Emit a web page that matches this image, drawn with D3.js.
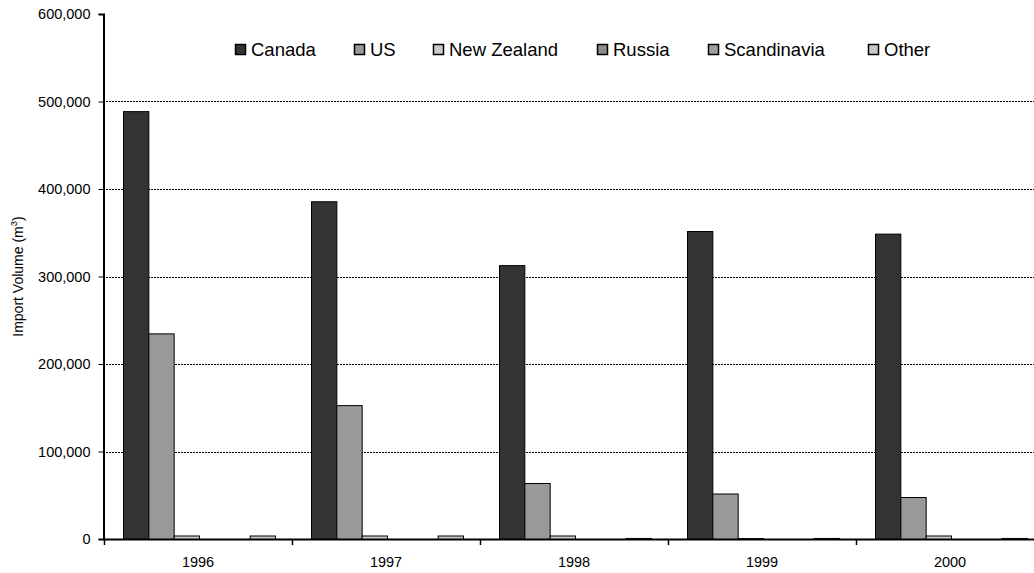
<!doctype html>
<html lang="en">
<head>
<meta charset="utf-8">
<script src="https://d3js.org/d3.v7.min.js"></script>
<style>
  body { margin: 0; background: #fff; }
  text { font-family: "Liberation Sans", Arial, sans-serif; fill: #000; }
</style>
</head>
<body>
<svg width="1034" height="573"></svg>
<script>
// data
var years = ["1996", "1997", "1998", "1999", "2000"];
var series = ["Canada", "US", "New Zealand", "Russia", "Scandinavia", "Other"];
var canada = [489000, 386000, 313000, 352000, 349000];
var us = [235000, 153000, 64000, 52000, 48000];
var newZealand = [4000, 4000, 4000, 1000, 4000];
var russia = [0, 0, 0, 0, 0];
var scandinavia = [0, 0, 0, 0, 0];
var other = [4000, 4000, 1200, 1200, 1200];
var yTicks = [0, 100000, 200000, 300000, 400000, 500000, 600000];

var values = [canada, us, newZealand, russia, scandinavia, other];
var colors = ["#333333", "#999999", "#cccccc", "#8c8c8c", "#a0a0a0", "#c8c8c8"];
var legendX = [235, 354, 433, 597, 708, 868];

var svg = d3.select("svg");
var plotLeft = 103, plotTop = 14, plotBottom = 539, bandW = 188;

var x = d3.scaleBand().domain(years).range([plotLeft + 1, plotLeft + 1 + bandW * years.length]).padding(0);
var xs = d3.scaleBand().domain(series).range([19, 171]).padding(0);
var y = d3.scaleLinear().domain([0, 600000]).range([plotBottom, plotTop]);

// gridlines
svg.append("g").selectAll("line").data(yTicks.filter(function(d) { return d > 0 && d < 600000; }))
  .enter().append("line")
  .attr("x1", plotLeft).attr("x2", 1034)
  .attr("y1", function(d) { return Math.round(y(d)) + 0.5; })
  .attr("y2", function(d) { return Math.round(y(d)) + 0.5; })
  .attr("stroke", "#000").attr("stroke-width", 1).attr("stroke-dasharray", "2,1");

// bars
var rows = [];
years.forEach(function(yr, i) {
  series.forEach(function(s, j) {
    rows.push({ year: yr, s: s, v: values[j][i], c: colors[j] });
  });
});
svg.append("g").selectAll("rect").data(rows.filter(function(d) { return d.v > 0; }))
  .enter().append("rect")
  .attr("x", function(d) { return x(d.year) + xs(d.s) + 0.5; })
  .attr("y", function(d) { return y(d.v) + 0.5; })
  .attr("width", xs.bandwidth())
  .attr("height", function(d) { return Math.max(0, y(0) - y(d.v)); })
  .attr("fill", function(d) { return d.c; })
  .attr("stroke", "#000").attr("stroke-width", 1);

// y axis
var yAxis = svg.append("g").attr("transform", "translate(" + (plotLeft + 0.5) + ",0)")
  .call(d3.axisLeft(y).tickValues(yTicks).tickFormat(d3.format(",")).tickSize(5).tickPadding(8));
yAxis.select(".domain").attr("stroke-width", 2);
yAxis.selectAll("text").style("font-size", "14.5px").style("font-family", "Liberation Sans, Arial, sans-serif");

// x axis
var xAxis = svg.append("g").attr("transform", "translate(0," + (plotBottom + 0.5) + ")")
  .call(d3.axisBottom(x).tickSize(0).tickPadding(17));
xAxis.select(".domain").remove();
xAxis.selectAll("text").style("font-size", "14.5px").style("font-family", "Liberation Sans, Arial, sans-serif");
svg.append("line").attr("x1", plotLeft).attr("x2", 1034).attr("y1", plotBottom + 0.5).attr("y2", plotBottom + 0.5)
  .attr("stroke", "#000").attr("stroke-width", 2);
var bounds = years.map(function(d) { return x(d); });
svg.append("g").selectAll("line").data(bounds).enter().append("line")
  .attr("x1", function(d) { return Math.round(d) + 0.5; })
  .attr("x2", function(d) { return Math.round(d) + 0.5; })
  .attr("y1", plotBottom).attr("y2", plotBottom + 6)
  .attr("stroke", "#000").attr("stroke-width", 1.5);

// y axis title
var title = svg.append("text")
  .attr("transform", "translate(23," + ((plotTop + plotBottom) / 2) + ") rotate(-90)")
  .attr("text-anchor", "middle").style("font-size", "14px");
title.append("tspan").text("Import Volume (m");
title.append("tspan").attr("dy", -6).style("font-size", "9.5px").text("3");
title.append("tspan").attr("dy", 6).text(")");

// legend
var leg = svg.append("g").selectAll("g").data(series).enter().append("g")
  .attr("transform", function(d, i) { return "translate(" + legendX[i] + ",44)"; });
leg.append("rect").attr("x", 0.5).attr("y", 0.5).attr("width", 10).attr("height", 10)
  .attr("fill", function(d, i) { return colors[i]; })
  .attr("stroke", "#000").attr("stroke-width", 1.5);
leg.append("text").attr("x", 16).attr("y", 12).style("font-size", "18.5px")
  .text(function(d) { return d; });
</script>
</body>
</html>
